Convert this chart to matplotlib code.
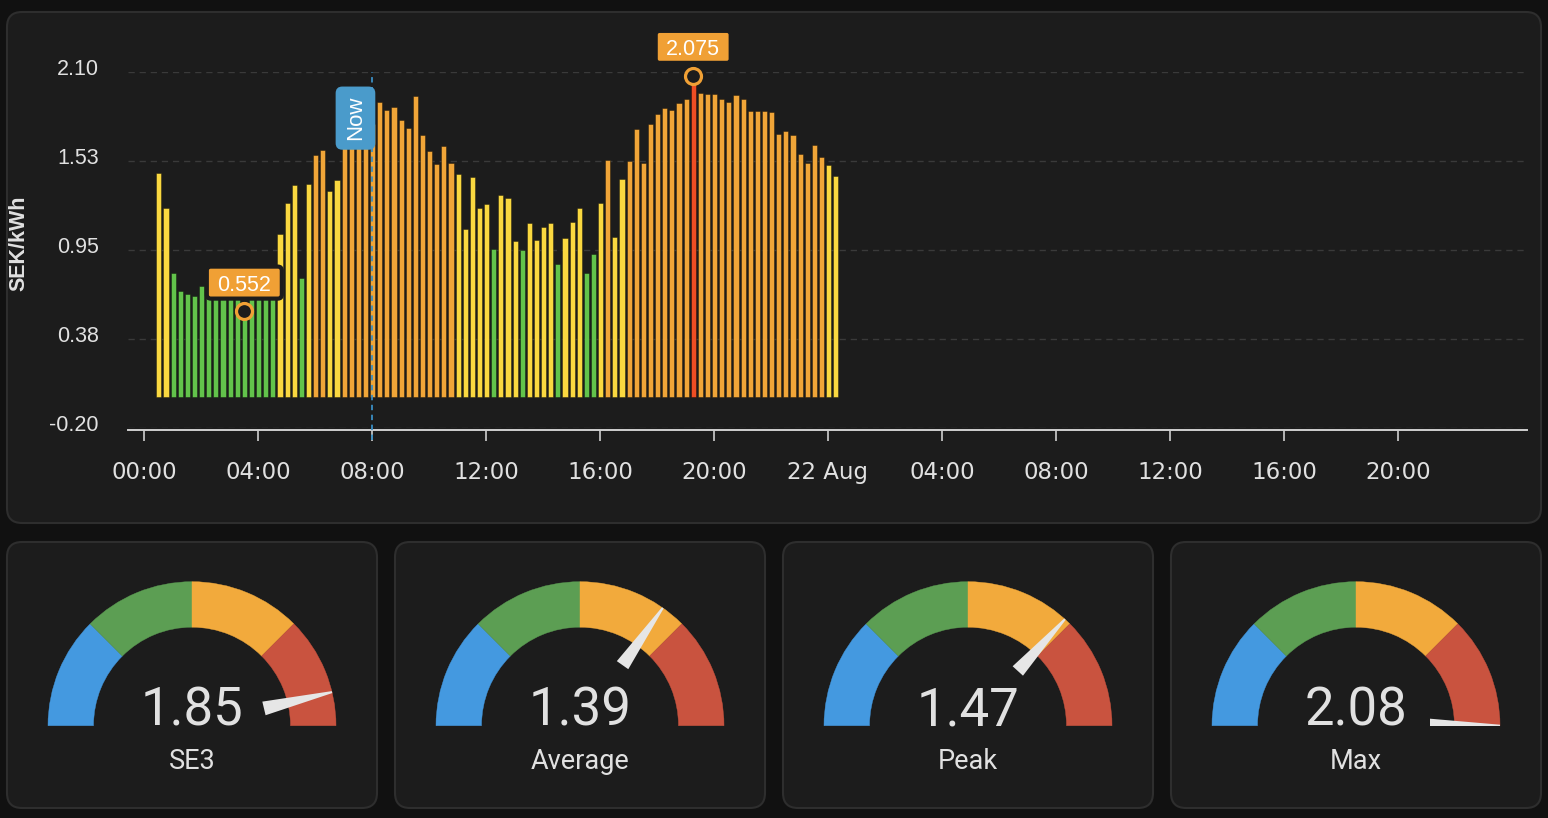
import numpy as np
import matplotlib
matplotlib.use("Agg")
import matplotlib.pyplot as plt
import matplotlib.transforms as mtransforms
from matplotlib.patches import FancyBboxPatch, Wedge, Polygon, Rectangle

# ---------------- data ----------------
prices = [
    1.448, 1.218, 0.802, 0.683, 0.664, 0.653, 0.718, 0.660,
    0.640, 0.630, 0.630, 0.630, 0.552, 0.630, 0.640, 0.650,
    0.680, 1.050, 1.254, 1.370, 0.770, 1.377, 1.564, 1.596,
    1.328, 1.403, 1.640, 1.660, 1.720, 1.780, 1.762, 1.902,
    1.851, 1.874, 1.788, 1.739, 1.943, 1.691, 1.588, 1.505,
    1.622, 1.510, 1.437, 1.082, 1.422, 1.218, 1.245, 0.953,
    1.306, 1.282, 1.004, 0.948, 1.125, 1.010, 1.097, 1.125,
    0.856, 1.026, 1.127, 1.218, 0.802, 0.925, 1.254, 1.532,
    1.032, 1.405, 1.525, 1.728, 1.508, 1.760, 1.829, 1.864,
    1.855, 1.898, 1.926, 2.075, 1.961, 1.954, 1.954, 1.926,
    1.906, 1.948, 1.922, 1.844, 1.846, 1.846, 1.838, 1.696,
    1.717, 1.689, 1.568, 1.508, 1.625, 1.549, 1.497, 1.424,
]
slot_hours = np.arange(len(prices)) * 0.25      # 15-minute slots from 00:00
now_hour = 8.0
y_ticks = [-0.2, 0.375, 0.95, 1.525, 2.1]
y_tick_labels = ["-0.20", "0.38", "0.95", "1.53", "2.10"]
x_ticks = [0, 4, 8, 12, 16, 20, 24, 28, 32, 36, 40, 44]
x_tick_labels = ["00:00", "04:00", "08:00", "12:00", "16:00", "20:00",
                 "22 Aug", "04:00", "08:00", "12:00", "16:00", "20:00"]
y_title = "SEK/kWh"

gauge_names = ["SE3", "Average", "Peak", "Max"]
gauge_values = [1.85, 1.39, 1.47, 2.08]
gauge_min, gauge_max = 0.0, 2.0

# ---------------- style ----------------
W, H = 1548, 818
PAGE = "#111111"
CARD = "#1c1c1c"
CARD_EDGE = "#2e2e2e"
TXT = "#e1e1e1"
C_GREEN, C_YELLOW, C_ORANGE, C_RED = "#62C34B", "#FAD840", "#F0A538", "#EF4E24"
ANN = "#F0A035"
NOW_C = "#3B8FC4"
NOW_BOX = "#4A9BCB"
G_COLS = ["#4499E0", "#5C9E53", "#F2AA3C", "#C9533F"]

def bar_color(v):
    if v < 1.0:
        return C_GREEN
    if v < 1.5:
        return C_YELLOW
    if v < 2.0:
        return C_ORANGE
    return C_RED

fig = plt.figure(figsize=(W / 100, H / 100), dpi=100, facecolor=PAGE)

# background axes in pixel coordinates (y up)
bg = fig.add_axes([0, 0, 1, 1])
bg.set_xlim(0, W)
bg.set_ylim(0, H)
bg.axis("off")
bg.set_zorder(0)

def Y(y):
    return H - y

def card(x0, y0, x1, y1):
    bg.add_patch(FancyBboxPatch((x0, Y(y1)), x1 - x0, y1 - y0,
                                boxstyle="round,pad=0,rounding_size=15",
                                fc=CARD, ec=CARD_EDGE, lw=1.5))

card(7, 12, 1541, 523)
card_x0 = [7, 395, 783, 1171]
for x0 in card_x0:
    card(x0, 542, x0 + 370, 808)

# ---------------- gauges ----------------
R_OUT, R_IN = 144, 98.5
for x0, name, val in zip(card_x0, gauge_names, gauge_values):
    cx, cy = x0 + 185, Y(725.7)
    for k, col in enumerate(G_COLS):
        a1 = 180 - 45 * (k + 1)
        a2 = 180 - 45 * k
        bg.add_patch(Wedge((cx, cy), R_OUT, a1, a2, width=R_OUT - R_IN,
                           fc=col, ec=col, lw=0.3))
    frac = (min(max(val, gauge_min), gauge_max) - gauge_min) / (gauge_max - gauge_min)
    th = np.pi * (1 - frac)
    u = np.array([np.cos(th), np.sin(th)])
    p = np.array([-np.sin(th), np.cos(th)])
    c = np.array([cx, cy])
    pts = [c + 74 * u + 7 * p, c + 144 * u + 1 * p,
           c + 144 * u - 1 * p, c + 74 * u - 7 * p]
    needle = Polygon(pts, closed=True, fc="#e6e6e6", ec="none", zorder=3)
    bg.add_patch(needle)
    clip = Rectangle((cx - 200, cy), 400, 200, transform=bg.transData)
    needle.set_clip_path(clip)
    bg.text(cx, Y(725), f"{val:.2f}", ha="center", va="baseline",
            fontsize=38, color=TXT, family="Roboto")
    bg.text(cx, Y(769), name, ha="center", va="baseline",
            fontsize=19.5, color=TXT, family="Roboto")

# ---------------- main chart ----------------
PX0, PX1 = 128, 1527
PY_TOP, PY_BOT = 71.7, 427.7
HOUR_PX = 28.5
X0_PX = 144
ax = fig.add_axes([PX0 / W, (H - PY_BOT) / H, (PX1 - PX0) / W, (PY_BOT - PY_TOP) / H])
ax.set_zorder(2)
ax.patch.set_alpha(0)
ax.set_xlim((PX0 - X0_PX) / HOUR_PX, (PX1 - X0_PX) / HOUR_PX)
ax.set_ylim(-0.2, 2.1)

bar_x = slot_hours + 0.52
colors = [bar_color(v) for v in prices]
ax.bar(bar_x, prices, width=0.18, color=colors,
       edgecolor=(0, 0, 0, 0.35), linewidth=0.7, zorder=3)

ax.set_yticks(y_ticks)
ax.set_yticklabels(y_tick_labels)
ax.grid(axis="y", color="#3a3a3a", linestyle=(0, (4.5, 3.5)), linewidth=1.0, zorder=0)
ax.set_xticks(x_ticks)
ax.set_xticklabels(x_tick_labels)
ax.tick_params(axis="y", length=0, pad=21, labelsize=15.5, labelcolor=TXT)
ax.tick_params(axis="x", length=8, width=1.2, color="#cfcfcf", pad=14.5,
               labelsize=16.5, labelcolor=TXT)
up = mtransforms.ScaledTranslation(0, 3.5 / 72, fig.dpi_scale_trans)
for lab in ax.get_yticklabels():
    lab.set_family("Liberation Sans")
    lab.set_transform(lab.get_transform() + up)
for lab in ax.get_xticklabels():
    lab.set_family("Liberation Sans")
for s in ["top", "right", "left"]:
    ax.spines[s].set_visible(False)
ax.spines["bottom"].set_color("#cfcfcf")
ax.spines["bottom"].set_linewidth(1.4)
ax.spines["bottom"].set_position(("outward", 1.6))

fig.text(19 / W, 1 - 243 / H, y_title, rotation=90, ha="center", va="center",
         fontsize=15.5, fontweight="bold", color=TXT, family="Liberation Sans")

# now line + label
ax.plot([now_hour, now_hour], [-0.28, 2.1], color=NOW_C, lw=1.3,
        linestyle=(0, (3, 2.5)), zorder=4, clip_on=False)
ax.text(now_hour - 0.58, 1.80, "Now", rotation=90, ha="center", va="center",
        fontsize=16, color="white", family="Liberation Sans", zorder=6,
        bbox=dict(boxstyle="round,pad=0.42,rounding_size=0.3", fc=NOW_BOX, ec="none"))

# min / max markers with labels (box drawn in pixel units around the point)
BOX_W, BOX_H, BOX_DY = 75, 32, 28.7
for idx in [int(np.argmin(prices)), int(np.argmax(prices))]:
    xv, yv = bar_x[idx], prices[idx]
    ax.plot([xv], [yv], marker="o", ms=11.5, mfc=CARD, mec=ANN, mew=2.3,
            zorder=7, clip_on=False)
    tr = mtransforms.Affine2D().scale(fig.dpi / 100) + \
        mtransforms.ScaledTranslation(xv, yv, ax.transData)
    box = FancyBboxPatch((-BOX_W / 2, BOX_DY - BOX_H / 2), BOX_W, BOX_H,
                         boxstyle="round,pad=0,rounding_size=4",
                         fc=ANN, ec=CARD, lw=3, transform=tr, zorder=8, clip_on=False)
    ax.add_patch(box)
    ax.annotate(f"{yv:.3f}", xy=(xv, yv), xytext=(0, BOX_DY * 0.72 - 0.3),
                textcoords="offset points", ha="center", va="center_baseline",
                fontsize=15.5, color="white", family="Liberation Sans",
                zorder=9, annotation_clip=False)

fig.savefig("out.png", dpi=100, facecolor=PAGE)
